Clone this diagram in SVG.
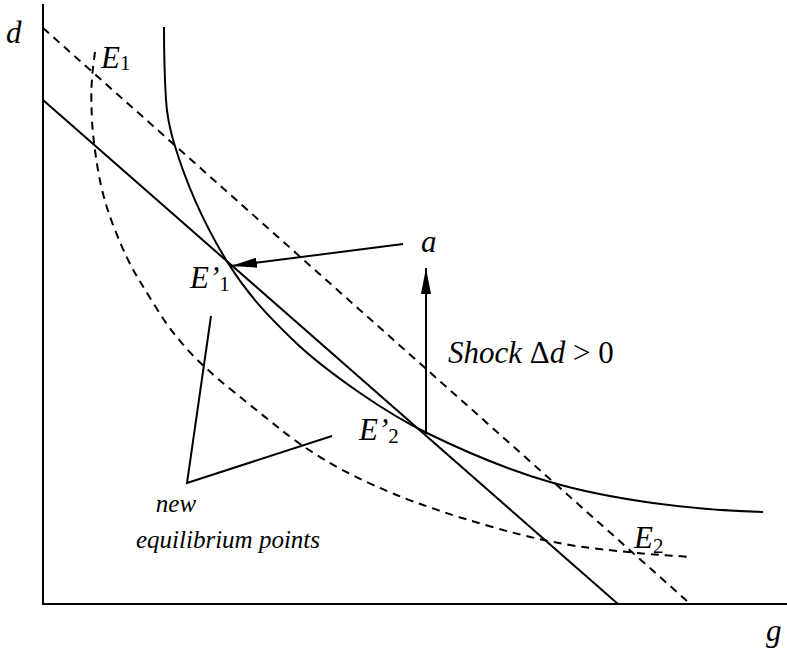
<svg xmlns="http://www.w3.org/2000/svg" width="787" height="653" viewBox="0 0 787 653">
<style>
.ln{fill:none;stroke:#000;stroke-width:2}
.ds{fill:none;stroke:#000;stroke-width:2;stroke-dasharray:8 6}
text{font-family:'Liberation Serif','Times New Roman',Times,serif;fill:#000}
.t{font-size:31px}
.i{font-style:italic}
.sub{font-size:21px;font-style:normal}
.lbl{font-size:25px;font-style:italic}
</style>
<defs>
<marker id="ah" viewBox="0 0 26 10" refX="26" refY="5" markerWidth="26" markerHeight="10" markerUnits="userSpaceOnUse" orient="auto">
<path d="M0,0 L26,5 L0,10 z" fill="#000"/>
</marker>
</defs>
<rect width="787" height="653" fill="#fff"/>
<g id="axes">
<line class="ln" x1="43" y1="4" x2="43" y2="604"/>
<line class="ln" x1="42" y1="604" x2="787" y2="604"/>
<text class="t i" x="6" y="43">d</text>
<text class="t i" x="766" y="641">g</text>
</g>
<g id="curves">
<line class="ds" x1="43" y1="28" x2="687" y2="601"/>
<line class="ln" x1="43" y1="100" x2="618" y2="604"/>
<path class="ln" d="M164,27 C164,51.3 164.5,75.7 166,100 C166.9,114.3 169.7,128.7 174,143 C186,183 203.2,223 228,263 C249.7,297.7 271.3,319 293,340 C315.3,361.7 337.7,377.6 360,393 C382.3,408.4 404.7,422.1 427,433 C468,453.1 509,470.1 550,482 C584.3,492 618.7,498.2 653,503 C689.7,508.1 726.3,510.9 763,512"/>
<path class="ds" d="M95,52 L93.5,63.5 Q92,75 91.5,87.5 Q91,100 92,120 Q93,140 98,170 Q103,200 115,230 Q127,260 137,276.5 Q147,293 158.5,311.5 Q170,330 186.5,348.5 Q203,367 231.5,390 Q260,413 280,429 Q300,445 326.5,461 Q353,477 393,493.5 Q433,510 490.5,526.5 Q548,543 590.5,548 Q633,553 662.5,555 L692,557"/>
</g>
<g id="connectors">
<line class="ln" x1="403" y1="244" x2="231" y2="266" marker-end="url(#ah)"/>
<line class="ln" x1="426" y1="434" x2="426" y2="268" marker-end="url(#ah)"/>
<polyline class="ln" points="211,316 187,483 332,436"/>
</g>
<g id="E1"><text class="t i" x="101" y="68">E<tspan class="sub" dy="2">1</tspan></text></g>
<g id="E2"><text class="t i" x="634" y="548">E<tspan class="sub" dy="5">2</tspan></text></g>
<g id="E1p"><text class="t i" x="190" y="288">E’<tspan class="sub" dy="3">1</tspan></text></g>
<g id="E2p"><text class="t i" x="359" y="440">E’<tspan class="sub" dy="3">2</tspan></text></g>
<g id="a"><text class="t i" x="421" y="252">a</text></g>
<g id="shock"><text class="t" x="448" y="363" font-size="32"><tspan class="i">Shock </tspan>Δ<tspan class="i">d</tspan> &gt; 0</text></g>
<g id="neweq">
<text class="lbl" x="176" y="512" text-anchor="middle">new</text>
<text class="lbl" x="228" y="548" text-anchor="middle">equilibrium points</text>
</g>
</svg>
